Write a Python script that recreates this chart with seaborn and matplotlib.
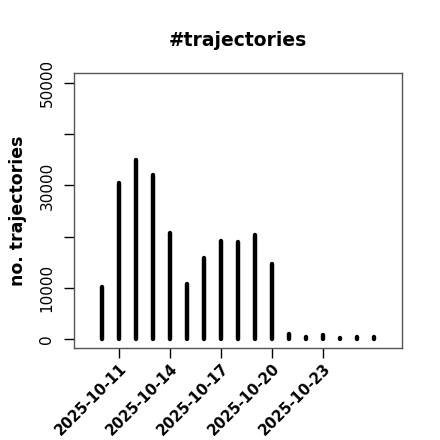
import numpy as np
import pandas as pd
import matplotlib
matplotlib.use("Agg")
import matplotlib.pyplot as plt
import matplotlib.dates as mdates
import seaborn as sns

# daily counts
dates = pd.date_range("2025-10-10", "2025-10-26", freq="D")
counts = [10100, 30500, 35000, 32000, 20700, 10800, 15800, 19200, 19000,
          20300, 14700, 950, 480, 750, 230, 480, 480]
tick_dates = pd.to_datetime(["2025-10-11", "2025-10-14", "2025-10-17",
                             "2025-10-20", "2025-10-23"])
y_ticks = [0, 10000, 20000, 30000, 40000, 50000]
y_labels = ["0", "10000", "", "30000", "", "50000"]

sns.set_theme(style="ticks", rc={
    "text.color": "black", "axes.labelcolor": "black",
    "xtick.color": "black", "ytick.color": "black",
})
plt.rcParams["font.family"] = ["DejaVu Sans"]

# long form: each day gets a point at 0 and one at its count -> vertical "h" lines
df = pd.DataFrame({
    "date": np.repeat(dates, 2),
    "n": np.ravel([[0, c] for c in counts]),
    "day": np.repeat(np.arange(len(dates)), 2),
})

fig = plt.figure(figsize=(4.4, 4.4), dpi=100)
ax = fig.add_axes([0.168, 0.209, 0.746, 0.625])
sns.lineplot(data=df, x="date", y="n", units="day", estimator=None,
             color="black", linewidth=3.2, solid_capstyle="round",
             sort=False, ax=ax)

d0 = mdates.date2num(dates[0])
ax.set_xlim(d0 - 1.66, d0 + 17.63)
ax.set_ylim(-1765, 51960)
ax.set_xticks(mdates.date2num(tick_dates))
ax.set_xticklabels([d.strftime("%Y-%m-%d") for d in tick_dates],
                   rotation=45, ha="right", rotation_mode="anchor",
                   fontweight="bold", fontsize=10.6)
ax.set_yticks(y_ticks)
ax.set_yticklabels(y_labels, rotation=90, va="center", fontsize=11)
ax.tick_params(axis="both", length=7, width=1, color="black", direction="out")
ax.tick_params(axis="x", pad=2)
ax.tick_params(axis="y", pad=7)
for s in ax.spines.values():
    s.set_visible(True)
    s.set_color("#555555")
    s.set_linewidth(1)
ax.grid(False)

ax.set_xlabel("")
ax.set_ylabel("no. trajectories", fontweight="bold", fontsize=12.5, labelpad=9)
ax.set_title("#trajectories", fontweight="bold", fontsize=13.5, pad=19.5)

fig.savefig("out.png", dpi=100)
